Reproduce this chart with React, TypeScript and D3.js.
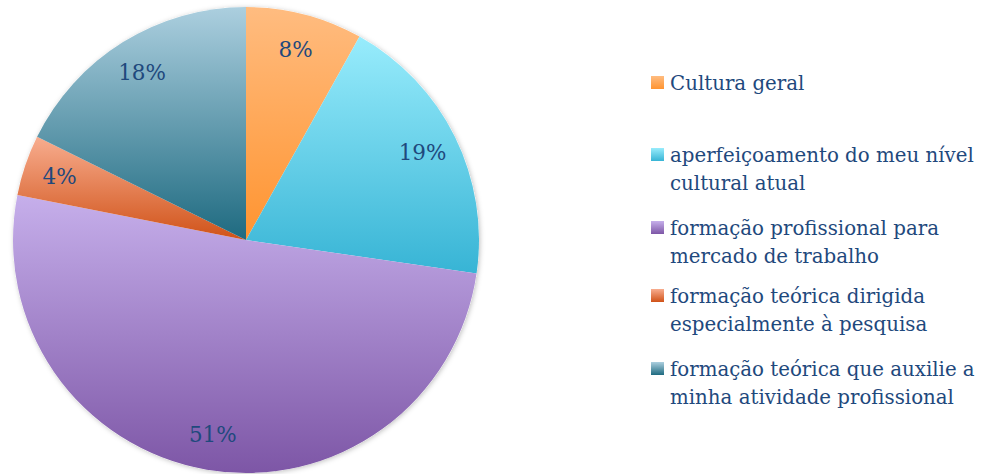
import React from "react";
import * as d3 from "d3";

const categories = [
  "Cultura geral",
  "aperfeiçoamento do meu nível cultural atual",
  "formação profissional para mercado de trabalho",
  "formação teórica dirigida especialmente à pesquisa",
  "formação teórica que auxilie a minha atividade profissional",
];
const legendLines = [
  ["Cultura geral"],
  ["aperfeiçoamento do meu nível", "cultural atual"],
  ["formação profissional para", "mercado de trabalho"],
  ["formação teórica dirigida", "especialmente à pesquisa"],
  ["formação teórica que auxilie a", "minha atividade profissional"],
];
const values = [8.1, 19.2, 50.8, 4.2, 17.7];
const gradTop = ["#FFBC80", "#98ECFC", "#C6AFEB", "#F8AD8F", "#ACCFDF"];
const gradBottom = ["#FF9430", "#37B4D5", "#7D56A6", "#D05218", "#1E6A80"];

const W = 987;
const H = 474;
const cx = 246;
const cy = 240;
const R = 233;
const textColor = "#1F497D";
const font = "'DejaVu Serif', serif";

export default function App() {
  const total = d3.sum(values);
  const pie = d3.pie<number>().sort(null).value((d) => d)(values);
  const arc = d3.arc<d3.PieArcDatum<number>>().innerRadius(0).outerRadius(R);
  const labelArc = d3
    .arc<d3.PieArcDatum<number>>()
    .innerRadius(R * 0.845)
    .outerRadius(R * 0.845);

  const legendBaselines = [90, 162, 235, 303, 376];
  const lineH = 28;

  return (
    <svg
      width={W}
      height={H}
      style={{ position: "absolute", left: 0, top: 0, background: "#fff" }}
    >
      <defs>
        {values.map((_, i) => (
          <linearGradient key={i} id={`g${i}`} x1="0" y1="0" x2="0" y2="1">
            <stop offset="0" stopColor={gradTop[i]} />
            <stop offset="1" stopColor={gradBottom[i]} />
          </linearGradient>
        ))}
        <filter id="sh" x="-10%" y="-10%" width="120%" height="120%">
          <feDropShadow dx="1" dy="1" stdDeviation="2.5" floodColor="#000" floodOpacity="0.25" />
        </filter>
      </defs>
      <g transform={`translate(${cx},${cy})`}>
        <circle r={R} fill="#fff" filter="url(#sh)" />
        {pie.map((p, i) => (
          <path key={i} d={arc(p) || ""} fill={`url(#g${i})`} />
        ))}
        {pie.map((p, i) => {
          const [x, y] = labelArc.centroid(p);
          return (
            <text
              key={i}
              x={x}
              y={y}
              textAnchor="middle"
              dominantBaseline="central"
              fontFamily={font}
              fontSize={21.5}
              fill={textColor}
            >
              {`${Math.round((p.data / total) * 100)}%`}
            </text>
          );
        })}
      </g>
      <g>
        {categories.map((c, i) => (
          <g key={i}>
            <rect x={651} y={legendBaselines[i] - 14} width={13} height={13} fill={`url(#g${i})`} />
            {legendLines[i].map((l, j) => (
              <text
                key={j}
                x={670}
                y={legendBaselines[i] + j * lineH}
                fontFamily={font}
                fontSize={19.8}
                fill={textColor}
              >
                {l}
              </text>
            ))}
          </g>
        ))}
      </g>
    </svg>
  );
}
